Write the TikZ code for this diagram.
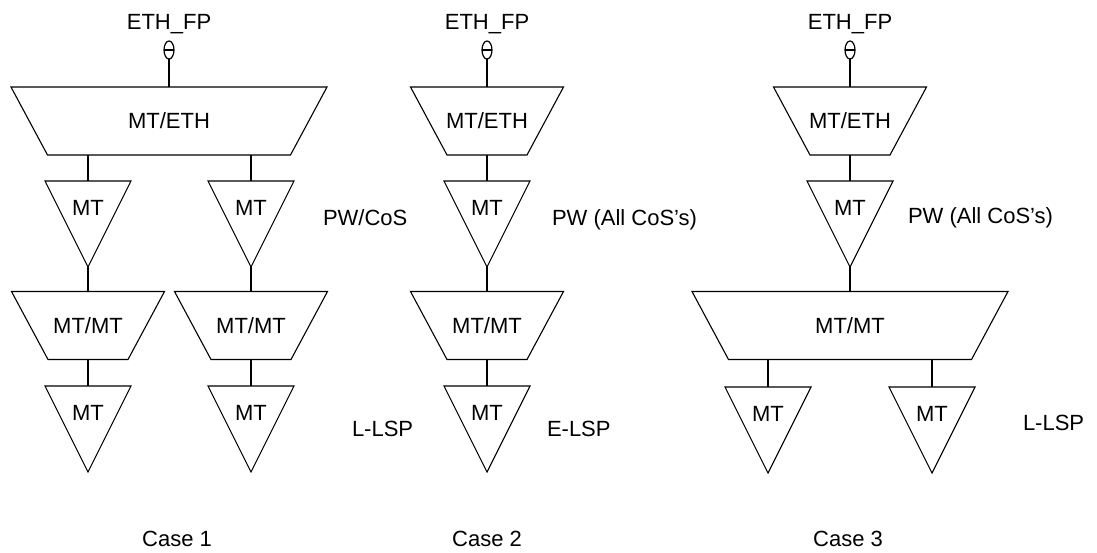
\documentclass[tikz,border=0pt]{standalone}
\usepackage{fontspec}
\setmainfont{Liberation Sans}
\usetikzlibrary{shapes.geometric,backgrounds}
\newcommand\trapoutline[1]{%
  \filldraw[fill=white, line width=1.1pt] (#1.north west) -- (#1.north east)
    -- ([xshift=-36.5pt]#1.south east) -- ([xshift=36.5pt]#1.south west) -- cycle;}
\begin{document}
\begin{tikzpicture}[x=1pt,y=-1pt,
  line width=1.1pt,
  every node/.style={font=\fontsize{22}{26}\selectfont, inner sep=0pt, outer sep=0pt},
  trapbig/.style={rectangle, minimum width=316pt, minimum height=68pt},
  trapsmall/.style={rectangle, minimum width=153pt, minimum height=68pt},
  tri/.style={draw, fill=white, isosceles triangle, shape border rotate=-90,
    isosceles triangle stretches, minimum width=86pt, minimum height=86pt, anchor=apex},
  fp/.style={draw, fill=white, ellipse, minimum width=10pt, minimum height=18pt, line width=1.2pt,
    path picture={\draw[line width=1.2pt] (path picture bounding box.west) -- (path picture bounding box.east);}},
  conn/.style={line width=1.1pt},
  lbl/.style={anchor=base},
  side/.style={anchor=base west}
]
\useasboundingbox (0,0) rectangle (1097,552);

% ---------- Case 1 ----------
\node[lbl] (fp1) at (169,29) {ETH\_FP};
\node[fp] (th1) at (169,50) {};
\node[trapbig] (eth1) at (169,121) {MT/ETH};
\node[tri] (t1a) at (88,267) {};
\node[lbl] (t1aL) at (88,215) {MT};
\node[tri] (t1b) at (251,267) {};
\node[lbl] (t1bL) at (251,215) {MT};
\node[trapsmall] (m1a) at (88,325.5) {MT/MT};
\node[trapsmall] (m1b) at (251,325.5) {MT/MT};
\node[tri] (l1a) at (88,472) {};
\node[lbl] (l1aL) at (88,420) {MT};
\node[tri] (l1b) at (251,472) {};
\node[lbl] (l1bL) at (251,420) {MT};
\node[side] (pw1) at (323,225) {PW/CoS};
\node[side] (ls1) at (352,436) {L-LSP};
\node[lbl] (c1) at (177,546) {Case 1};

% ---------- Case 2 ----------
\node[lbl] (fp2) at (487,29) {ETH\_FP};
\node[fp] (th2) at (487,50) {};
\node[trapsmall] (eth2) at (487,121) {MT/ETH};
\node[tri] (t2) at (487,267) {};
\node[lbl] (t2L) at (487,215) {MT};
\node[trapsmall] (m2) at (487,325.5) {MT/MT};
\node[tri] (l2) at (487,472) {};
\node[lbl] (l2L) at (487,420) {MT};
\node[side] (pw2) at (552,225) {PW (All CoS’s)};
\node[side] (ls2) at (547,436) {E-LSP};
\node[lbl] (c2) at (487,546) {Case 2};

% ---------- Case 3 ----------
\node[lbl] (fp3) at (850,29) {ETH\_FP};
\node[fp] (th3) at (850,50) {};
\node[trapsmall] (eth3) at (850,121) {MT/ETH};
\node[tri] (t3) at (850,267) {};
\node[lbl] (t3L) at (850,215) {MT};
\node[trapbig] (m3) at (850,325.5) {MT/MT};
\node[tri] (l3a) at (768,473) {};
\node[lbl] (l3aL) at (768,421) {MT};
\node[tri] (l3b) at (932,473) {};
\node[lbl] (l3bL) at (932,421) {MT};
\node[side] (pw3) at (908,223) {PW (All CoS’s)};
\node[side] (ls3) at (1023,430) {L-LSP};
\node[lbl] (c3) at (848,546) {Case 3};

% ---------- connectors and trapezium outlines ----------
\begin{pgfonlayer}{background}
\draw[conn] (th1.center) -- (eth1.center);
\draw[conn] (t1a.center) -- (t1a.center |- eth1.center);
\draw[conn] (t1b.center) -- (t1b.center |- eth1.center);
\draw[conn] (t1a.center) -- (m1a.center);
\draw[conn] (t1b.center) -- (m1b.center);
\draw[conn] (l1a.center) -- (m1a.center);
\draw[conn] (l1b.center) -- (m1b.center);

\draw[conn] (th2.center) -- (eth2.center);
\draw[conn] (t2.center) -- (eth2.center);
\draw[conn] (t2.center) -- (m2.center);
\draw[conn] (l2.center) -- (m2.center);

\draw[conn] (th3.center) -- (eth3.center);
\draw[conn] (t3.center) -- (eth3.center);
\draw[conn] (t3.center) -- (m3.center);
\draw[conn] (l3a.center) -- (l3a.center |- m3.center);
\draw[conn] (l3b.center) -- (l3b.center |- m3.center);

\trapoutline{eth1}
\trapoutline{m1a}
\trapoutline{m1b}
\trapoutline{eth2}
\trapoutline{m2}
\trapoutline{eth3}
\trapoutline{m3}
\end{pgfonlayer}
\end{tikzpicture}
\end{document}
